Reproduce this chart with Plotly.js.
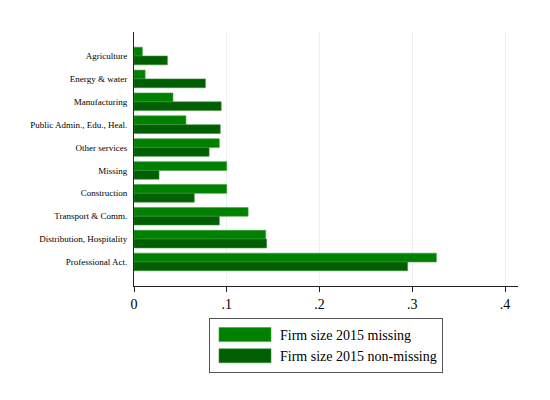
<!DOCTYPE html>
<html>
<head>
<meta charset="utf-8">
<script src="https://cdn.plot.ly/plotly-3.0.1.min.js"></script>
<style>
  html, body { margin: 0; padding: 0; background: #fff; }
  #chart { width: 550px; height: 400px; }
</style>
</head>
<body>
<div id="chart"></div>
<script>
// Sector shares by firm size 2015 status
const sectors = [
  'Agriculture',
  'Energy & water',
  'Manufacturing',
  'Public Admin., Edu., Heal.',
  'Other services',
  'Missing',
  'Construction',
  'Transport & Comm.',
  'Distribution, Hospitality',
  'Professional Act.',
];
const shareMissing = [0.009, 0.012, 0.042, 0.056, 0.092, 0.100, 0.100, 0.123, 0.142, 0.326];
const shareNonMissing = [0.036, 0.077, 0.094, 0.093, 0.081, 0.027, 0.065, 0.092, 0.143, 0.295];
const xTicks = [0, 0.1, 0.2, 0.3, 0.4];
const xTickLabels = ['0', '.1', '.2', '.3', '.4'];

const SERIF = 'Liberation Serif, Times New Roman, serif';

const traces = [
  {
    type: 'bar',
    orientation: 'h',
    x: shareMissing,
    y: sectors,
    name: 'Firm size 2015 missing',
    marker: { color: '#008000', line: { color: '#3f9f3f', width: 0.6 } },
  },
  {
    type: 'bar',
    orientation: 'h',
    x: shareNonMissing,
    y: sectors,
    name: 'Firm size 2015 non-missing',
    marker: { color: '#005f00', line: { color: '#3f8f3f', width: 0.6 } },
  },
];

const layout = {
  width: 550,
  height: 400,
  paper_bgcolor: '#ffffff',
  plot_bgcolor: '#ffffff',
  font: { family: SERIF, color: '#000000', size: 12 },
  margin: { t: 32, r: 32, b: 114, l: 134 },
  barmode: 'group',
  bargap: 0.23,
  bargroupgap: 0,
  xaxis: {
    range: [0, 0.414],
    tickvals: xTicks,
    ticktext: xTickLabels,
    ticks: 'outside',
    ticklen: 5,
    tickcolor: '#222',
    showline: true,
    linecolor: '#222',
    linewidth: 1,
    showgrid: true,
    gridcolor: '#eaf1f1',
    zeroline: false,
    tickfont: { family: SERIF, size: 14, color: '#000' },
  },
  yaxis: {
    type: 'category',
    range: [10.05, -1.05],
    showline: true,
    linecolor: '#222',
    linewidth: 1,
    ticks: '',
    showgrid: false,
    zeroline: false,
    ticklabelstandoff: 4,
    tickfont: { family: SERIF, size: 9, color: '#000' },
  },
  showlegend: true,
  legend: {
    orientation: 'v',
    x: 0.5,
    xanchor: 'center',
    y: -0.126,
    yanchor: 'top',
    bordercolor: '#555',
    borderwidth: 1,
    bgcolor: '#fff',
    itemwidth: 60,
    tracegroupgap: 0,
    font: { family: SERIF, size: 14, color: '#000' },
  },
};

Plotly.newPlot('chart', traces, layout, { staticPlot: true }).then(gd => {
  // Stata-style wide legend keys
  gd.querySelectorAll('.legendpoints path').forEach(p => {
    p.setAttribute('d', 'M-26,-7H26V7H-26Z');
    p.style.strokeWidth = '0.6px';
  });
});
</script>
</body>
</html>
